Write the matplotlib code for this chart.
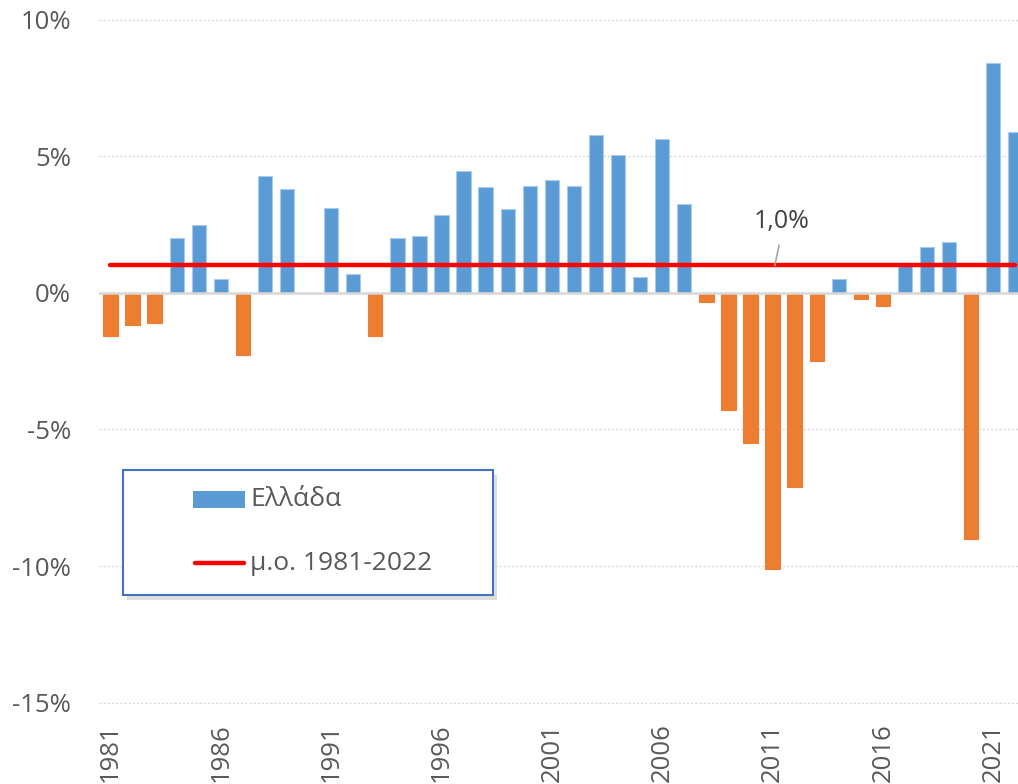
import numpy as np
import matplotlib
matplotlib.use("Agg")
import matplotlib.pyplot as plt
from matplotlib.patches import Rectangle
from matplotlib.lines import Line2D

years = list(range(1981, 2023))
growth = [-1.57, -1.17, -1.09, 2.00, 2.49, 0.50, -2.27, 4.29, 3.80, 0.0,
          3.10, 0.68, -1.60, 1.99, 2.09, 2.86, 4.47, 3.88, 3.06, 3.90,
          4.11, 3.90, 5.79, 5.05, 0.57, 5.64, 3.26, -0.33, -4.29, -5.50,
          -10.10, -7.11, -2.50, 0.49, -0.23, -0.48, 1.10, 1.69, 1.87, -9.02,
          8.40, 5.90]
mean_value = 1.0
mean_label = "1,0%"
series_label = "Ελλάδα"
mean_series_label = "μ.ο. 1981-2022"
tick_years = list(range(1981, 2022, 5))
y_ticks = [-15, -10, -5, 0, 5, 10]

BLUE = "#5B9BD5"
ORANGE = "#ED7D31"
TEXT = "#595959"
GRID = "#D9D9D9"
FONT = ["Open Sans", "DejaVu Sans"]

plt.rcParams["font.family"] = FONT

W, H = 1018, 784
fig = plt.figure(figsize=(W / 100, H / 100), dpi=100)
ax = fig.add_axes([99 / W, (H - 704) / H, (W - 99) / W, 685 / H])

vals = np.array(growth)
colors = [BLUE if v >= 0 else ORANGE for v in vals]
edges = ["#A9CBEA" if v >= 0 else ORANGE for v in vals]
ax.bar(years, vals, width=0.65, color=colors, edgecolor=edges, linewidth=0.8, zorder=3)

ax.axhline(0, color=GRID, lw=1.8, zorder=4)
ax.plot(years, [mean_value] * len(years), color="#FF0000", lw=3.2,
        solid_capstyle="round", zorder=5)

ax.annotate(mean_label, xy=(2011.1, mean_value), xytext=(2011.4, 2.6),
            ha="center", va="center", fontsize=18, color="#404040",
            arrowprops=dict(arrowstyle="-", color="#A6A6A6", lw=1.2,
                            relpos=(0.5, 0.0), shrinkA=6, shrinkB=0),
            zorder=6)

ax.set_xlim(1980.48, 2022.12)
ax.set_ylim(-15.05, 10.02)
ax.set_yticks(y_ticks)
ax.set_yticklabels([f"{t}%" for t in y_ticks])
ax.set_xticks(tick_years)
ax.set_xticklabels([str(y) for y in tick_years], rotation=90, va="top", ha="center")
ax.tick_params(axis="both", length=0, labelsize=18.5, colors=TEXT)
ax.tick_params(axis="y", pad=20)
ax.tick_params(axis="x", pad=14)
ax.yaxis.grid(True, color=GRID, lw=1.0, linestyle=(0, (1.5, 1.5)), zorder=0)
ax.set_axisbelow(True)
for s in ax.spines.values():
    s.set_visible(False)

# legend box drawn by hand (Excel style)
def fx(px):
    return px / W

def fy(py):
    return (H - py) / H

fig.patches.append(Rectangle((fx(127), fy(600)), fx(370), 125 / H,
                             transform=fig.transFigure, facecolor="#C8C8C8",
                             edgecolor="none", alpha=0.6, zorder=7))
fig.patches.append(Rectangle((fx(123), fy(595)), fx(370), 125 / H,
                             transform=fig.transFigure, facecolor="white",
                             edgecolor="#4472C4", lw=1.5, zorder=8))
fig.patches.append(Rectangle((fx(193), fy(508)), fx(52), 17 / H,
                             transform=fig.transFigure, facecolor=BLUE,
                             edgecolor="none", zorder=9))
fig.lines.append(Line2D([fx(195), fx(244)], [fy(563), fy(563)],
                        transform=fig.transFigure, color="#FF0000", lw=3.2,
                        solid_capstyle="round", zorder=9))
fig.text(fx(250), fy(500), series_label, fontsize=19, color=TEXT,
         va="center", ha="left", zorder=10)
fig.text(fx(250), fy(563), mean_series_label, fontsize=19, color=TEXT,
         va="center", ha="left", zorder=10)

fig.savefig("out.png", dpi=100)
